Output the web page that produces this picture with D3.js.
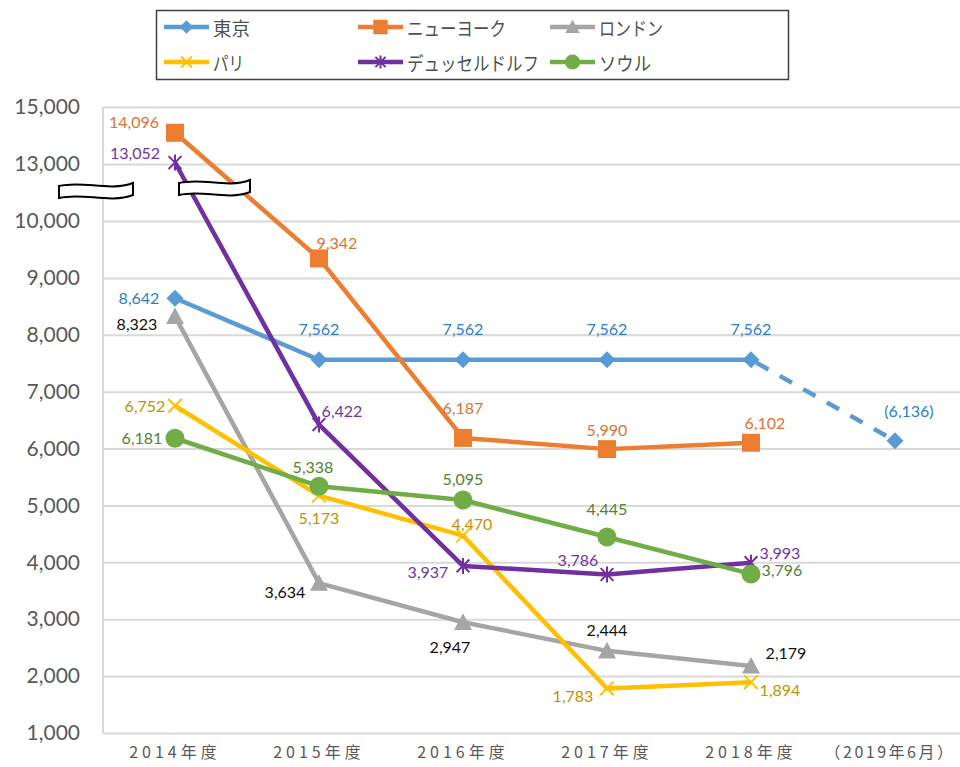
<!DOCTYPE html>
<html><head><meta charset="utf-8">
<script src="https://cdn.jsdelivr.net/npm/d3@7"></script>
<style>body{margin:0;background:#fff}svg{display:block}</style>
</head><body>
<svg id="c" width="960" height="767"></svg>
<script>
// ---- data ----
const categories = ["2014年度","2015年度","2016年度","2017年度","2018年度","（2019年6月）"];
const cities = ["東京","ニューヨーク","ロンドン","パリ","デュッセルドルフ","ソウル"];
const tokyo = [8642, 7562, 7562, 7562, 7562];
const tokyo2019 = 6136;
const newYork = [14096, 9342, 6187, 5990, 6102];
const london = [8323, 3634, 2947, 2444, 2179];
const paris = [6752, 5173, 4470, 1783, 1894];
const dusseldorf = [13052, 6422, 3937, 3786, 3993];
const seoul = [6181, 5338, 5095, 4445, 3796];
const yTicks = [1000,2000,3000,4000,5000,6000,7000,8000,9000,10000,13000,15000];

// ---- styles / label placement (not data) ----
const lineColors = ["#5B9BD5","#ED7D31","#A5A5A5","#FFC000","#7030A0","#70AD47"];
const labelColors = ["#2E80C8","#DD7234","#111111","#C09200","#7433A6","#548235"];
const markers = ["diamond","square","triangle","x","asterisk","circle"];
const legendTextWidths = [37, 99, 64, 31, 132, 52];
const labelOffsets = [
  [[-36,-1],[0,-31],[0,-31],[0,-31],[0,-31]],
  [[-41,-11],[18,-16],[0,-30],[0,-20],[14,-20]],
  [[-38,7],[-34,8],[-13,24],[0,-21],[35,-13]],
  [[-30,0],[0,22],[9,-12],[-34,7],[29,7]],
  [[-40,-10],[23,-14],[-35,6],[-29,-15],[29,-10]],
  [[-33,-1],[-6,-20],[0,-22],[0,-29],[31,-4]]
];
const tokyo2019Offset = [14,-30];

const seriesValues = [tokyo, newYork, london, paris, dusseldorf, seoul];
const fmt = d3.format(",");
const svg = d3.select("#c");

const x = d3.scaleBand().domain(categories).range([103, 967]);
const cx = c => x(c) + x.bandwidth()/2;
const y = d3.scaleLinear().domain([1000,10000,13000,15000]).range([733,221,164,107]);

// gridlines
const yAxis = d3.axisLeft(y).tickValues(yTicks).tickSize(-(960-103)).tickFormat(fmt).tickPadding(23);
const gy = svg.append("g").attr("transform","translate(103,0)").call(yAxis);
gy.select(".domain").remove();
gy.selectAll(".tick line").attr("stroke","#D9D9D9").attr("stroke-width",2);
gy.selectAll(".tick text").attr("fill","#595959").attr("font-family","Lato, 'Liberation Sans', sans-serif").attr("font-size",21);
// left axis line
svg.append("line").attr("x1",103).attr("x2",103).attr("y1",y(15000)).attr("y2",y(1000)).attr("stroke","#D9D9D9").attr("stroke-width",2);

// x axis labels
const xAxis = d3.axisBottom(x).tickSize(0).tickPadding(14);
const gx = svg.append("g").attr("transform","translate(0,733)").call(xAxis);
gx.select(".domain").remove();
gx.selectAll(".tick text").attr("fill","#595959").attr("font-family","'Noto Sans CJK JP', sans-serif")
  .attr("font-size",16).attr("letter-spacing","4px")
  .attr("dx", (d,i) => i === categories.length-1 ? -5 : 0);
gx.selectAll(".tick").filter((d,i) => i === categories.length-1).select("text").attr("letter-spacing","2.5px");

// marker drawing
function drawMarker(g, type, px, py, s, color) {
  const h = s/2;
  if (type === "diamond") {
    g.append("path").attr("d",`M${px},${py-h}L${px+h},${py}L${px},${py+h}L${px-h},${py}Z`).attr("fill",color);
  } else if (type === "square") {
    g.append("rect").attr("x",px-h).attr("y",py-h).attr("width",s).attr("height",s).attr("fill",color);
  } else if (type === "triangle") {
    g.append("path").attr("d",`M${px},${py-h}L${px+h},${py+h*0.85}L${px-h},${py+h*0.85}Z`).attr("fill",color);
  } else if (type === "x") {
    const k = h*0.85;
    g.append("path").attr("d",`M${px-k},${py-k}L${px+k},${py+k}M${px+k},${py-k}L${px-k},${py+k}`).attr("stroke",color).attr("stroke-width",2);
  } else if (type === "asterisk") {
    const k = h*0.8;
    g.append("path").attr("d",`M${px-k},${py-k}L${px+k},${py+k}M${px+k},${py-k}L${px-k},${py+k}M${px},${py-h}L${px},${py+h}`).attr("stroke",color).attr("stroke-width",2);
  } else if (type === "circle") {
    g.append("circle").attr("cx",px).attr("cy",py).attr("r",h).attr("fill",color);
  }
}
const markerSize = {diamond:17, square:18, triangle:18, x:16, asterisk:16, circle:19};

const line = d3.line().x(d=>d[0]).y(d=>d[1]);
const plot = svg.append("g");
// Tokyo dashed projection
plot.append("path")
  .attr("d", line([[cx(categories[4]), y(tokyo[4])],[cx(categories[5]), y(tokyo2019)]]))
  .attr("fill","none").attr("stroke",lineColors[0]).attr("stroke-width",4.5)
  .attr("stroke-dasharray","14,13").attr("stroke-dashoffset",-6);
drawMarker(plot, "diamond", cx(categories[5]), y(tokyo2019), markerSize.diamond, lineColors[0]);

seriesValues.forEach((vals,i) => {
  const pts = vals.map((v,j)=>[cx(categories[j]), y(v)]);
  const g = plot.append("g");
  g.append("path").attr("d", line(pts)).attr("fill","none")
    .attr("stroke",lineColors[i]).attr("stroke-width",4.5).attr("stroke-linejoin","round");
  pts.forEach(p => drawMarker(g, markers[i], p[0], p[1], markerSize[markers[i]], lineColors[i]));
});

// data labels
const labels = svg.append("g").attr("font-family","Lato, 'Liberation Sans', sans-serif").attr("font-size",16)
  .attr("text-anchor","middle").attr("dominant-baseline","central");
seriesValues.forEach((vals,i) => {
  vals.forEach((v,j) => {
    const o = labelOffsets[i][j];
    labels.append("text").attr("x", cx(categories[j]) + o[0]).attr("y", y(v) + o[1])
      .attr("fill", labelColors[i]).text(fmt(v));
  });
});
labels.append("text").attr("x", cx(categories[5]) + tokyo2019Offset[0]).attr("y", y(tokyo2019) + tokyo2019Offset[1])
  .attr("fill", labelColors[0]).text("(" + fmt(tokyo2019) + ")");

// axis break symbols
function breakSym(x0, y0, w, h) {
  const a = 3;
  const d = `M${x0},${y0+a} C${x0+w/3},${y0-a} ${x0+2*w/3},${y0+3*a} ${x0+w},${y0}` +
            ` L${x0+w},${y0+h} C${x0+2*w/3},${y0+h+3*a} ${x0+w/3},${y0+h-a} ${x0},${y0+h+a} Z`;
  svg.append("path").attr("d",d).attr("fill","#fff").attr("stroke","#000").attr("stroke-width",2);
}
breakSym(59, 183, 74, 12);
breakSym(179, 180, 71, 12);

// legend
const leg = svg.append("g");
leg.append("rect").attr("x",156.5).attr("y",10.5).attr("width",632).attr("height",69)
  .attr("fill","#fff").attr("stroke","#404040").attr("stroke-width",1.5);
const legCols = [164, 358, 550];
const legRows = [27, 62];
cities.forEach((name,i) => {
  const lx = legCols[i%3], ly = legRows[Math.floor(i/3)];
  leg.append("line").attr("x1",lx).attr("x2",lx+45).attr("y1",ly).attr("y2",ly)
    .attr("stroke",lineColors[i]).attr("stroke-width",4.5);
  drawMarker(leg, markers[i], lx+22.5, ly, markerSize[markers[i]]*0.8, lineColors[i]);
  leg.append("text").attr("x",lx+49).attr("y",ly).attr("dominant-baseline","central")
    .attr("font-family","'Noto Sans CJK JP', sans-serif").attr("font-size",19).attr("fill","#505050")
    .attr("textLength", legendTextWidths[i]).attr("lengthAdjust","spacingAndGlyphs").text(name);
});
</script>
</body></html>
